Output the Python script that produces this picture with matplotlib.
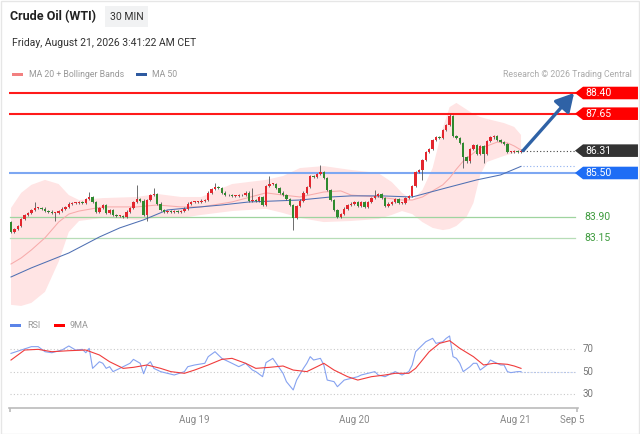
import matplotlib
matplotlib.use("Agg")
import matplotlib.pyplot as plt
from matplotlib.patches import Polygon, Rectangle

plt.rcParams['font.family'] = ['Roboto', 'DejaVu Sans']

# ----------------------------
# Chart data (30 min candles, price in USD)
# ----------------------------
first_open = 83.72
closes = [
    83.36, 83.47, 83.58, 83.83, 83.98, 84.05, 84.16, 84.23, 84.23, 84.20,
    84.12, 84.09, 84.05, 84.05, 84.12, 84.20, 84.27, 84.38, 84.41, 84.41,
    84.45, 84.41, 84.56, 84.63, 84.45, 84.09, 84.23, 84.34, 84.05, 84.16,
    83.98, 83.94, 83.94, 83.91, 84.09, 84.23, 84.45, 84.56, 84.49, 83.98,
    84.52, 84.70, 84.74, 84.38, 84.16, 84.09, 84.12, 84.09, 84.12, 84.09,
    84.12, 84.20, 84.38, 84.45, 84.45, 84.45, 84.49, 84.52, 84.78, 84.92,
    84.99, 84.96, 84.78, 84.70, 84.70, 84.67, 84.67, 84.70, 84.70, 84.78,
    84.49, 84.52, 84.49, 84.63, 84.34, 85.03, 85.10, 85.10, 84.96, 84.78,
    84.70, 84.56, 84.34, 83.87, 84.30, 84.49, 84.78, 84.99, 85.39, 85.36,
    85.46, 85.54, 85.32, 84.88, 84.52, 84.16, 83.91, 84.01, 84.20, 84.34,
    84.38, 84.45, 84.30, 84.45, 84.27, 84.45, 84.59, 84.67, 84.74, 84.59,
    84.30, 84.38, 84.45, 84.56, 84.41, 84.41, 84.59, 84.67, 85.03, 85.54,
    85.61, 85.97, 86.26, 86.37, 86.70, 86.80, 86.77, 87.06, 87.24, 87.57,
    86.84, 86.77, 86.59, 86.08, 85.93, 86.37, 86.51, 86.19, 86.48, 86.19,
    86.66, 86.80, 86.84, 86.70, 86.62, 86.55, 86.26, 86.26, 86.30, 86.26,
    86.31,
]
# longer wicks
high_idx = [7, 23, 37, 42, 60, 71, 76, 91, 107, 129]
high_val = [84.45, 84.81, 85.07, 84.96, 85.14, 84.96, 85.39, 85.79, 84.88, 87.64]
low_idx = [13, 40, 83, 121, 133, 139]
low_val = [83.76, 83.76, 83.43, 85.25, 85.68, 85.86]

# Bollinger bands (20) and moving averages
upper_idx = [0, 3, 6, 10, 14, 17, 20, 27, 37, 43, 50, 56, 65, 75, 80, 85, 92,
             100, 108, 112, 115, 118, 121, 124, 127, 129, 131, 136, 138, 140,
             145, 148, 150]
upper_val = [84.23, 84.78, 85.07, 85.25, 85.10, 84.70, 84.52, 84.59, 84.63,
             84.74, 84.63, 84.63, 85.10, 85.25, 85.39, 85.68, 85.75, 85.61,
             85.50, 85.17, 84.78, 84.52, 84.88, 85.68, 87.13, 87.89, 88.04,
             87.64, 87.53, 87.46, 87.31, 87.17, 86.88]
lower_idx = [0, 3, 6, 10, 14, 17, 20, 27, 37, 43, 50, 56, 65, 75, 80, 85, 92,
             100, 108, 112, 115, 118, 121, 124, 127, 129, 131, 134, 136, 138,
             140, 145, 148, 150]
lower_val = [80.72, 80.68, 80.79, 81.19, 82.28, 83.36, 83.76, 83.87, 83.80,
             83.87, 83.87, 83.98, 84.12, 84.20, 84.05, 83.87, 83.72, 83.76,
             83.83, 83.98, 84.12, 84.01, 83.72, 83.51, 83.43, 83.47, 83.58,
             83.91, 84.41, 85.43, 85.90, 86.12, 86.22, 86.26]
ma20_idx = [0, 3, 6, 10, 14, 17, 20, 27, 37, 43, 50, 56, 65, 75, 80, 85, 92,
            97, 100, 108, 115, 118, 121, 124, 127, 129, 131, 133, 136, 138,
            140, 143, 146, 148, 150]
ma20_val = [82.20, 82.42, 82.71, 83.15, 83.72, 84.01, 84.12, 84.27, 84.27,
            84.34, 84.27, 84.27, 84.45, 84.78, 84.70, 84.63, 84.81, 84.85,
            84.70, 84.63, 84.52, 84.52, 84.63, 84.85, 85.07, 85.32, 85.64,
            85.93, 86.22, 86.41, 86.48, 86.62, 86.59, 86.48, 86.33]
ma50_idx = [0, 6, 17, 26, 32, 39, 46, 52, 62, 70, 85, 94, 100, 109, 118, 128,
            137, 144, 150]
ma50_val = [81.73, 82.06, 82.60, 83.18, 83.51, 83.80, 84.16, 84.23, 84.34,
            84.45, 84.52, 84.63, 84.67, 84.67, 84.63, 84.96, 85.25, 85.43,
            85.74]

# support / resistance levels
resistances = [88.40, 87.65]
pivot = 85.50
supports = [83.90, 83.15]
last_price = 86.31

# RSI and its 9 period MA
rsi_idx = [0, 3, 6, 8, 10, 12, 15, 17, 19, 21, 22, 23, 24, 26, 27, 28, 29, 30,
           32, 33, 34, 35, 36, 38, 39, 40, 41, 42, 44, 46, 48, 51, 52, 54, 57,
           58, 60, 62, 63, 65, 67, 69, 71, 72, 74, 75, 77, 78, 80, 81, 83, 84,
           86, 87, 88, 89, 91, 92, 93, 95, 96, 98, 100, 102, 103, 105, 107,
           108, 110, 112, 113, 115, 117, 118, 119, 120, 122, 124, 125, 127,
           128, 129, 130, 131, 132, 133, 135, 136, 137, 138, 140, 141, 142,
           144, 145, 146, 147, 149, 150]
rsi_val = [66.1, 69.1, 72.1, 72.1, 67.6, 66.7, 69.1, 72.7, 69.1, 69.7, 66.7,
           70.6, 52.8, 58.7, 57.3, 52.8, 54.3, 49.9, 52.8, 54.3, 55.8, 57.3,
           60.8, 57.3, 48.0, 55.8, 58.7, 52.8, 49.9, 48.4, 46.9, 49.9, 54.3,
           55.8, 57.3, 63.2, 67.6, 61.7, 60.2, 57.3, 54.3, 57.3, 51.3, 49.9,
           45.4, 57.9, 61.7, 57.3, 48.4, 41.0, 33.6, 42.4, 52.8, 57.3, 63.2,
           60.2, 61.7, 55.8, 42.4, 41.0, 36.5, 42.4, 43.9, 45.4, 46.9, 48.4,
           49.9, 46.9, 45.4, 48.4, 49.9, 46.9, 49.9, 55.8, 67.6, 70.6, 76.5,
           79.5, 75.0, 76.5, 79.5, 81.6, 63.2, 61.7, 57.3, 49.9, 54.3, 57.3,
           57.3, 51.3, 55.8, 60.2, 58.7, 55.8, 55.8, 49.9, 49.0, 49.9, 49.9]
ma9_idx = [0, 4, 8, 12, 17, 22, 26, 29, 33, 36, 40, 44, 47, 51, 54, 58, 62, 65,
           69, 72, 76, 80, 83, 87, 90, 92, 95, 99, 102, 106, 110, 113, 117,
           119, 123, 126, 129, 132, 136, 139, 142, 146, 148, 150]
ma9_val = [60.2, 69.1, 69.7, 67.6, 68.5, 69.1, 64.7, 58.7, 52.8, 53.7, 55.8,
           52.8, 49.9, 48.4, 51.3, 55.8, 60.8, 61.7, 57.3, 52.8, 53.7, 54.9,
           51.3, 49.9, 54.3, 57.3, 51.3, 45.4, 42.4, 45.4, 46.9, 48.4, 48.4,
           52.8, 67.6, 75.0, 77.4, 70.6, 63.2, 55.8, 57.3, 56.4, 54.9, 52.8]
rsi_levels = [70, 50, 30]

tick_pos = [53.8, 101.0, 148.2, 165.0]
tick_labels = ["Aug 19", "Aug 20", "Aug 21", "Sep 5"]

# ----------------------------
# Figure layout
# ----------------------------
fig = plt.figure(figsize=(6.4, 4.34), dpi=100)
ax = fig.add_axes([9 / 640, 1 - 312 / 434, 569 / 640, 227 / 434])
rsi_ax = fig.add_axes([9 / 640, 1 - 408 / 434, 569 / 640, 78 / 434])
x_min, x_max = -0.588, 166.76
end_x = 165.9

# ----------------------------
# Price panel
# ----------------------------
ax.fill(upper_idx + lower_idx[::-1], upper_val + lower_val[::-1],
        color='#ffe4e4', lw=0, zorder=1)

for r in resistances:
    ax.axhline(r, xmin=0.002, xmax=0.998, color='#ff1a1a', lw=1.5, zorder=2)
ax.axhline(pivot, xmin=0.002, xmax=0.998, color='#7da7f2', lw=1.5, zorder=2)
ax.axhline(supports[0], xmin=0.002, xmax=0.995, color='#9fd49f', lw=0.9, zorder=2)
ax.axhline(supports[1], xmin=0.002, xmax=0.995, color='#b7ddb7', lw=0.9, zorder=2)

ax.plot(ma20_idx, ma20_val, color='#f7abab', lw=0.75, zorder=3)
ax.plot(ma50_idx, ma50_val, color='#4f70b3', lw=0.75, zorder=3)

opens = [first_open] + closes[:-1]
highs = [max(o, c) + 0.05 for o, c in zip(opens, closes)]
lows = [min(o, c) - 0.05 for o, c in zip(opens, closes)]
for i, v in zip(high_idx, high_val):
    highs[i] = v
for i, v in zip(low_idx, low_val):
    lows[i] = v

xs = list(range(len(closes)))
colors = ['#e3262e' if c >= o else '#2f8a2f' for o, c in zip(opens, closes)]
ax.vlines(xs, lows, highs, colors='#555555', lw=0.6, zorder=4)
bottoms = [min(o, c) for o, c in zip(opens, closes)]
heights = [max(abs(c - o), 0.02) for o, c in zip(opens, closes)]
ax.bar(xs, heights, bottom=bottoms, width=0.68, color=colors, lw=0, zorder=5)

# dotted extensions of last price and MA 50
ax.hlines(last_price, xs[-1] + 0.5, end_x, colors='#444444',
          linestyles=(0, (1, 2)), lw=0.8, zorder=3)
ax.hlines(ma50_val[-1], xs[-1] + 0.5, end_x, colors='#8fb0f0',
          linestyles=(0, (1, 2)), lw=0.8, zorder=3)

# forecast arrow
ax.annotate('', xy=(165.6, resistances[0]), xytext=(xs[-1] + 0.6, last_price),
            arrowprops=dict(arrowstyle='-|>,head_length=0.9,head_width=0.5',
                            color='#2f62a6', lw=2.4, shrinkA=0, shrinkB=0,
                            mutation_scale=12), zorder=6)

# price tags on the right
tag_tr = ax.get_yaxis_transform()


def price_tag(level, color):
    h = 0.228
    verts = [(0.9947, level), (1.0088, level + h), (1.1054, level + h),
             (1.1054, level - h), (1.0088, level - h)]
    ax.add_patch(Polygon(verts, closed=True, transform=tag_tr, facecolor=color,
                         edgecolor='none', clip_on=False, zorder=7))
    ax.text(1.0125, level, f"{level:.2f}", transform=tag_tr, color='white',
            fontsize=7.5, va='center', ha='left', zorder=8)


for r in resistances:
    price_tag(r, '#ff0000')
price_tag(last_price, '#333333')
price_tag(pivot, '#1e6df5')
for s in supports:
    ax.text(1.0105, s, f"{s:.2f}", transform=tag_tr, color='#3e9b3e',
            fontsize=7.5, va='center', ha='left')

ax.set_xlim(x_min, x_max)
ax.set_ylim(80.46, 88.69)
ax.axis('off')

# ----------------------------
# RSI panel
# ----------------------------
for lv in rsi_levels:
    rsi_ax.axhline(lv, xmin=0.002, xmax=0.9947, color='#c9c9c9',
                   linestyle=(0, (1, 2)), lw=0.8)
    rsi_ax.text(1.008, lv, str(lv), transform=rsi_ax.get_yaxis_transform(),
                fontsize=7, color='#777777', va='center', ha='left')
rsi_ax.plot(rsi_idx, rsi_val, color='#86a2f0', lw=0.8)
rsi_ax.plot(ma9_idx, ma9_val, color='#f03c3c', lw=0.8)
rsi_ax.hlines(rsi_val[-1], rsi_idx[-1], end_x, colors='#a9bff5',
              linestyles=(0, (1, 2)), lw=0.8)

rsi_ax.set_xlim(x_min, x_max)
rsi_ax.set_ylim(17.56, 86.9)
for side in ['top', 'left', 'right']:
    rsi_ax.spines[side].set_visible(False)
rsi_ax.spines['bottom'].set_color('#bbbbbb')
rsi_ax.spines['bottom'].set_linewidth(1.2)
rsi_ax.set_yticks([])
rsi_ax.set_xticks(tick_pos)
rsi_ax.set_xticklabels(tick_labels, fontsize=7, color='#888888')
rsi_ax.tick_params(axis='x', length=0, pad=5)
rsi_ax.set_xticks([x_min + 0.15, x_max - 0.15], minor=True)
rsi_ax.tick_params(axis='x', which='minor', length=3, width=1.2,
                   color='#bbbbbb', direction='out')
rsi_ax.patch.set_alpha(0)

# ----------------------------
# Header, legends
# ----------------------------
def fx(px):
    return px / 640


def fy(py):
    return 1 - py / 434


fig.text(fx(10), fy(17), 'Crude Oil (WTI)', fontsize=9, fontweight='bold',
         color='#222222', va='center')
fig.add_artist(Rectangle((fx(105), fy(27)), 43 / 640, 21 / 434,
                         transform=fig.transFigure, facecolor='#f1f2f3',
                         edgecolor='none'))
fig.text(fx(126.5), fy(17), '30 MIN', fontsize=7.5, color='#333333',
         ha='center', va='center')
fig.text(fx(12), fy(43), 'Friday, August 21, 2026 3:41:22 AM CET',
         fontsize=7.5, color='#333333', va='center')

fig.add_artist(Rectangle((fx(12), fy(76)), 11 / 640, 3 / 434,
                         transform=fig.transFigure, facecolor='#f28080',
                         edgecolor='none'))
fig.text(fx(29), fy(74.5), 'MA 20 + Bollinger Bands', fontsize=6.3,
         color='#999999', va='center')
fig.add_artist(Rectangle((fx(136), fy(76)), 11 / 640, 3 / 434,
                         transform=fig.transFigure, facecolor='#2e5aa0',
                         edgecolor='none'))
fig.text(fx(152), fy(74.5), 'MA 50', fontsize=6.3, color='#999999', va='center')
fig.text(fx(632), fy(74.5), 'Research \u00a9 2026 Trading Central', fontsize=6.3,
         color='#aaaaaa', va='center', ha='right')

fig.add_artist(Rectangle((fx(10), fy(326.5)), 11 / 640, 3 / 434,
                         transform=fig.transFigure, facecolor='#5b84e8',
                         edgecolor='none'))
fig.text(fx(27), fy(325), 'RSI', fontsize=6.5, color='#999999', va='center')
fig.add_artist(Rectangle((fx(54), fy(326.5)), 11 / 640, 3 / 434,
                         transform=fig.transFigure, facecolor='#ff0000',
                         edgecolor='none'))
fig.text(fx(70), fy(325), '9MA', fontsize=6.5, color='#999999', va='center')

# faint frame round the picture
fig.add_artist(Rectangle((0.001, 0.001), 0.998, 0.997, transform=fig.transFigure,
                         facecolor='none', edgecolor='#e6e6e6', lw=1))

fig.savefig('out.png', dpi=100)
plt.close(fig)
